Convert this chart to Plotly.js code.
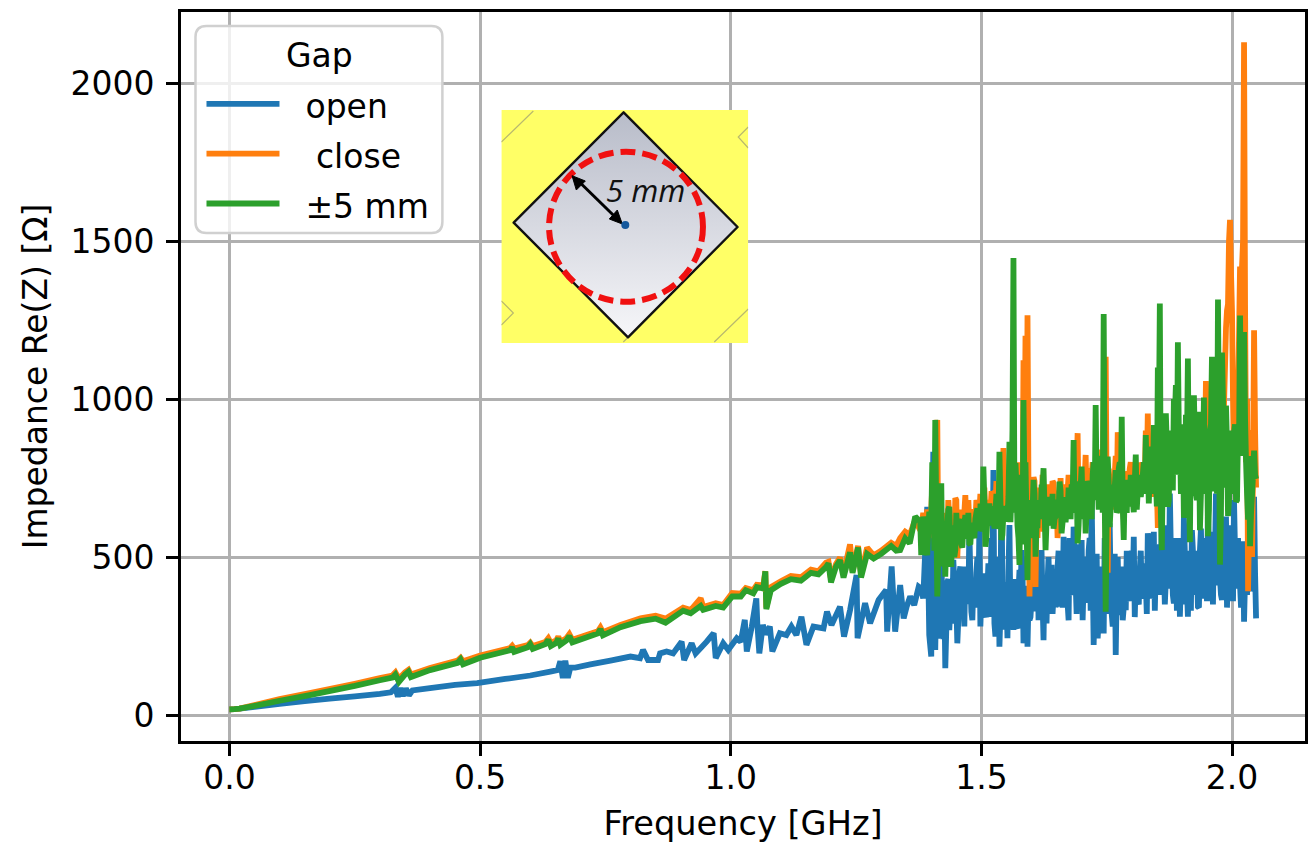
<!DOCTYPE html>
<html><head><meta charset="utf-8">
<script src="https://cdn.plot.ly/plotly-3.0.1.min.js"></script>
<style>html,body{margin:0;padding:0;background:#fff}#c{width:1311px;height:843px}</style>
</head><body><div id="c"></div>
<script>
const seriesNames = ['\u00a0\u00a0open', '\u00a0\u00a0\u00a0close', '\u00a0\u00a0±5 mm'];
const legendTitle = 'Gap';
const seriesColors = ['#1f77b4', '#ff7f0e', '#2ca02c'];
const xTicks = [0, 0.5, 1, 1.5, 2];
const yTicks = [0, 500, 1000, 1500, 2000];

const freqHigh = [
1.380,1.384,1.388,1.392,1.396,1.400,1.404,1.408,1.412,1.416,
1.420,1.424,1.428,1.432,1.436,1.440,1.444,1.448,1.452,1.456,
1.460,1.464,1.468,1.472,1.476,1.480,1.484,1.488,1.492,1.496,
1.500,1.504,1.508,1.512,1.516,1.520,1.524,1.528,1.532,1.536,
1.540,1.544,1.548,1.552,1.556,1.560,1.564,1.568,1.572,1.576,
1.580,1.584,1.588,1.592,1.596,1.600,1.604,1.608,1.612,1.616,
1.620,1.624,1.628,1.632,1.636,1.640,1.644,1.648,1.652,1.656,
1.660,1.664,1.668,1.672,1.676,1.680,1.684,1.688,1.692,1.696,
1.700,1.704,1.708,1.712,1.716,1.720,1.724,1.728,1.732,1.736,
1.740,1.744,1.748,1.752,1.756,1.760,1.764,1.768,1.772,1.776,
1.780,1.784,1.788,1.792,1.796,1.800,1.804,1.808,1.812,1.816,
1.820,1.824,1.828,1.832,1.836,1.840,1.844,1.848,1.852,1.856,
1.860,1.864,1.868,1.872,1.876,1.880,1.884,1.888,1.892,1.896,
1.900,1.904,1.908,1.912,1.916,1.920,1.924,1.928,1.932,1.936,
1.940,1.944,1.948,1.952,1.956,1.960,1.964,1.968,1.972,1.976,
1.980,1.984,1.988,1.992,1.996,2.000,2.004,2.008,2.012,2.016,
2.020,2.024,2.028,2.032,2.036,2.040,2.044,2.048];

const openHigh = [
400,369,520,659,253,185,833,206,243,540,
575,240,148,420,269,300,491,340,227,448,
322,400,470,360,586,327,420,350,500,596,
380,448,320,400,311,560,775,248,420,216,
744,330,420,243,601,340,269,400,274,459,
522,227,400,216,300,364,430,343,520,400,
522,237,340,420,350,475,380,343,470,343,
450,564,420,353,560,400,596,420,470,338,
554,420,500,364,560,680,222,420,243,420,
470,258,400,490,607,320,450,190,500,317,
430,340,332,400,448,520,564,430,359,460,
369,480,416,575,440,379,580,470,438,540,
617,480,427,600,701,480,353,560,440,311,
480,627,420,311,520,585,427,520,343,520,
420,369,560,650,406,422,580,701,520,430,
364,540,628,480,438,560,680,470,560,410,
520,295,480,560,395,620,691,306];

const closeHigh = [
590,640,600,650,620,650,700,800,934,700,
620,540,480,560,620,580,620,687,497,600,
630,590,696,660,600,620,650,610,670,640,
680,650,620,680,640,700,702,660,720,690,
750,845,720,770,740,790,800,760,800,680,
640,1123,1200,1265,375,520,753,405,560,600,
620,580,640,600,660,700,734,620,560,680,
650,690,660,710,680,720,740,820,892,720,
760,720,823,780,720,760,700,800,720,680,
760,1000,1134,450,700,650,720,820,895,640,
720,620,760,700,780,720,760,700,800,740,
770,740,900,954,720,690,733,780,592,800,
760,820,750,800,770,840,790,810,830,780,
800,840,780,860,800,820,850,790,870,830,
820,880,1057,860,800,850,800,880,760,820,
820,980,1225,1300,1567,1277,800,860,1000,1419,
1419,2129,800,392,902,500,1218,720];

const gapHigh = [
506,628,540,506,644,600,780,934,375,560,
733,560,438,600,659,469,530,522,560,612,
540,600,633,560,543,600,570,620,654,586,
660,786,533,620,670,630,650,640,590,833,
554,640,660,620,865,700,1446,797,600,475,
620,997,800,427,560,680,744,501,600,659,
720,781,522,670,600,640,590,628,680,739,
575,650,610,640,680,730,870,660,543,700,
786,620,575,740,660,620,800,981,744,730,
820,1269,327,818,595,680,720,775,649,800,
944,554,680,744,700,660,642,824,712,760,
722,800,886,800,765,850,918,750,1100,1302,
522,800,955,659,880,720,1000,1044,1180,900,
800,624,950,1128,547,850,1012,701,960,585,
800,1005,700,566,900,1134,708,1000,1315,476,
1147,800,979,630,760,700,895,675,900,1264,
1100,1212,800,618,534,700,837,747];

const freqFine = [
1.402,1.406,1.410,1.414,1.418,1.422,1.426,1.430,1.434,1.438,
1.442,1.446,1.450,1.454,1.458,1.462,1.466,1.470,1.474,1.478,
1.482,1.486,1.490,1.494,1.498,1.502,1.506,1.510,1.514,1.518,
1.522,1.526,1.530,1.534,1.538,1.542,1.546,1.550,1.554,1.558,
1.562,1.566,1.570,1.574,1.578,1.582,1.586,1.590,1.594,1.598,
1.602,1.606,1.610,1.614,1.618,1.622,1.626,1.630,1.634,1.638,
1.642,1.646,1.650,1.654,1.658,1.662,1.666,1.670,1.674,1.678,
1.682,1.686,1.690,1.694,1.698,1.702,1.706,1.710,1.714,1.718,
1.722,1.726,1.730,1.734,1.738,1.742,1.746,1.750,1.754,1.758,
1.762,1.766,1.770,1.774,1.778,1.782,1.786,1.790,1.794,1.798,
1.802,1.806,1.810,1.814,1.818,1.822,1.826,1.830,1.834,1.838,
1.842,1.846,1.850,1.854,1.858,1.862,1.866,1.870,1.874,1.878,
1.882,1.886,1.890,1.894,1.898,1.902,1.906,1.910,1.914,1.918,
1.922,1.926,1.930,1.934,1.938,1.942,1.946,1.950,1.954,1.958,
1.962,1.966,1.970,1.974,1.978,1.982,1.986,1.990,1.994,1.998,
2.002,2.006,2.010,2.014,2.018,2.022,2.026,2.030,2.034,2.038,
2.042,2.046];

const openFine = [
520,300,410,260,450,310,380,270,430,340,
290,420,350,300,470,330,280,410,360,440,
300,390,450,340,280,430,370,310,480,350,
420,290,360,500,320,410,270,380,450,300,
350,430,280,390,330,470,290,400,360,310,
450,330,480,300,410,360,440,290,500,380,
320,460,350,520,400,340,490,370,300,510,
380,470,320,540,410,300,480,360,520,330,
450,370,510,300,440,350,560,320,470,390,
280,510,400,340,470,300,430,520,360,490,
400,310,470,350,520,380,450,320,540,370,
480,330,500,380,440,560,350,470,400,520,
380,470,330,560,420,350,510,400,450,330,
520,380,460,340,590,400,480,360,540,420,
350,500,410,560,380,470,520,340,600,430,
360,520,400,480,340,550,430,380,520,400,
600,450];

const closeFine = [
720,560,640,520,700,500,640,600,680,560,
620,540,680,600,650,570,640,610,680,580,
640,600,680,630,700,620,720,600,670,640,
700,630,740,640,720,610,690,660,730,650,
860,680,760,600,800,580,740,660,720,640,
680,740,640,720,660,760,690,650,730,680,
740,660,710,680,750,650,730,690,760,660,
720,680,780,640,760,700,740,680,770,700,
800,720,760,690,840,680,740,660,780,700,
730,760,680,820,720,700,770,680,740,800,
720,780,690,760,730,800,740,770,710,830,
760,800,720,840,760,820,780,860,750,840,
780,860,800,850,790,880,780,860,800,880,
810,880,800,900,820,860,820,900,800,880,
840,900,820,880,850,900,1100,1280,1500,1400,
1000,900,950,1200,1300,1500,1300,1000,600,600,
800,900];

const gapFine = [
800,520,640,500,680,470,610,560,650,540,
600,500,640,560,620,530,600,570,640,540,
600,560,640,590,660,580,680,560,630,600,
660,590,700,600,680,570,650,620,690,610,
900,640,720,560,760,540,700,620,680,600,
640,700,600,680,620,720,650,610,690,640,
700,620,670,640,710,610,690,650,720,620,
680,640,740,600,720,660,700,640,730,660,
760,680,720,650,800,640,700,620,740,660,
690,720,640,780,680,660,730,640,700,760,
680,740,650,720,690,760,700,730,670,790,
700,820,660,900,640,800,700,850,680,900,
720,940,760,880,700,920,680,840,720,900,
740,860,680,900,700,820,760,880,650,920,
760,980,700,900,640,1000,720,860,680,900,
760,920,680,860,1000,820,940,700,820,640,
760,760];

const openLowX = [0,.01,.02,.05,.1,.15,.2,.25,.3,.322,.331,.336,.341,.346,.352,.358,.365,.4,.45,.494,.55,.6,.64,.655,.66,.665,.67,.675,.68,.69,.72,.76,.8,.819,.825,.835,.855,.859,.872,.885,.902,.907,.922,.93,.952,.966,.97,.985,.995,1.012,1.02,1.028,1.032,1.042,1.051,1.053,1.057,1.064,1.07,1.078,1.083,1.098,1.111,1.121,1.131,1.141,1.151,1.165,1.185,1.192,1.201,1.218,1.226,1.238,1.251,1.253,1.268,1.278,1.295,1.31,1.312,1.321,1.328,1.338,1.345,1.351,1.358,1.366,1.375];
const openLowY = [18,18.5,20,26,35,44,52,59,67,72,86,58,85,60,84,62,78,85,95,101,114,125,137,142,170,117,172,118,150,150,160,172,185,180,206,174,174,195,201,195,232,174,227,195,232,259,180,227,206,243,232,301,201,280,369,290,195,285,255,280,201,259,253,280,253,311,222,280,274,327,285,343,248,332,443,243,354,290,364,396,264,470,264,411,306,343,375,348,406];

const closeLowX = [0,.01,.02,.05,.1,.16,.25,.3,.325,.331,.338,.35,.357,.362,.4,.455,.461,.466,.5,.56,.564,.568,.595,.6,.605,.63,.636,.641,.652,.656,.66,.672,.678,.684,.735,.74,.745,.78,.82,.85,.87,.905,.92,.94,.945,.97,.985,1.003,1.02,1.03,1.045,1.052,1.065,1.069,1.071,1.08,1.1,1.12,1.14,1.16,1.175,1.19,1.195,1.2,1.21,1.218,1.225,1.238,1.243,1.254,1.26,1.272,1.285,1.3,1.32,1.33,1.338,1.348,1.357,1.368,1.378];
const closeLowY = [18,18.5,20,31,50,69,99,117,125,135,115,135,143,128,149,172,181,170,188,212,219,210,221,229,218,231,243,228,236,248,232,243,256,238,265,277,262,285,306,314,305,340,332,369,342,354,348,386,384,402,395,412,410,455,340,405,423,440,436,460,455,482,485,430,478,498,448,540,455,535,445,530,505,520,545,535,560,580,570,617,585];

const gapLowX = [0,.01,.02,.05,.1,.16,.25,.3,.325,.331,.338,.35,.357,.362,.4,.455,.461,.466,.5,.56,.564,.568,.595,.6,.605,.63,.636,.641,.652,.656,.66,.672,.678,.684,.735,.74,.745,.78,.82,.85,.87,.905,.92,.94,.945,.97,.985,1.003,1.02,1.03,1.045,1.052,1.065,1.069,1.071,1.08,1.1,1.12,1.14,1.16,1.175,1.19,1.195,1.2,1.21,1.218,1.225,1.238,1.243,1.254,1.26,1.272,1.285,1.3,1.32,1.33,1.338,1.348,1.357,1.368,1.378];
const gapLowY = [18,18.5,20,29,45,63,92,110,118,128,105,128,137,120,142,165,176,160,181,205,214,200,214,224,209,224,238,218,228,242,222,236,250,230,258,272,252,278,297,305,292,330,322,345,333,345,340,375,375,395,385,405,400,455,335,395,415,430,425,450,445,468,480,420,470,490,435,515,450,530,435,510,495,510,535,520,522,559,543,628,612];

const W = 1311, H = 843, L = 180.5, R = 1305, T = 12, B = 741;
const px = v => (v - L) / (R - L);
const py = v => (B - v) / (B - T);

const insetSvg = `<svg xmlns="http://www.w3.org/2000/svg" width="741" height="699" viewBox="0 0 247 233">
<defs><linearGradient id="g" x1="0" y1="0" x2="0" y2="1"><stop offset="0" stop-color="#b8bcc9"/><stop offset="1" stop-color="#f6f6f9"/></linearGradient></defs>
<rect width="247" height="233" fill="#ffff66"/>
<g fill="none" stroke="#b9b96e" stroke-width="1.2"><path d="M0 32L32 1M247 17L237 27L247 38M0 191L12 203L0 215M247 199L213 232M122 232L127 227"/></g>
<path d="M122.3 2.3L236.3 117L126.7 227.3L12.3 112.7Z" fill="url(#g)" stroke="#111" stroke-width="2.4" stroke-linejoin="round"/>
<ellipse cx="124.7" cy="116.7" rx="77" ry="75" fill="none" stroke="#f01010" stroke-width="6" stroke-dasharray="15 7"/>
<path d="M76 70L117 110" stroke="#000" stroke-width="3"/>
<path d="M70.7 65.7L84 71L75 80Z" fill="#000" stroke="#000"/><path d="M121 114L108 109L116 100Z" fill="#000" stroke="#000"/>
<circle cx="124" cy="115" r="4" fill="#15589c"/>
</svg>`;

function joined(lowX, lowY, highX, highY, fineX, fineY) {
  const pts = [];
  lowX.forEach((v, k) => pts.push([v, lowY[k]]));
  highX.forEach((v, k) => pts.push([v, highY[k]]));
  fineX.forEach((v, k) => pts.push([v, fineY[k]]));
  pts.sort((a, b) => a[0] - b[0]);
  return {x: pts.map(p => p[0]), y: pts.map(p => p[1])};
}

const mk = (d, i) => ({
  x: d.x, y: d.y, type: 'scatter', mode: 'lines',
  name: '<span style="font-size:33px">' + seriesNames[i] + '</span>',
  line: {color: seriesColors[i], width: 5.8, simplify: false},
  hoverinfo: 'skip'
});

const r = 11, bx0 = 195, bx1 = 442, by0 = 26, by1 = 233;
const box = `M${px(bx0+r)} ${py(by0)} L${px(bx1-r)} ${py(by0)} Q${px(bx1)} ${py(by0)} ${px(bx1)} ${py(by0+r)} L${px(bx1)} ${py(by1-r)} Q${px(bx1)} ${py(by1)} ${px(bx1-r)} ${py(by1)} L${px(bx0+r)} ${py(by1)} Q${px(bx0)} ${py(by1)} ${px(bx0)} ${py(by1-r)} L${px(bx0)} ${py(by0+r)} Q${px(bx0)} ${py(by0)} ${px(bx0+r)} ${py(by0)} Z`;

const font = {family: '"DejaVu Sans", sans-serif', size: 33, color: '#000'};
const axis = {
  showline: true, mirror: true, linecolor: '#000', linewidth: 2.6,
  ticks: 'outside', ticklen: 12, tickwidth: 2.6, tickcolor: '#000',
  showgrid: true, gridcolor: '#b0b0b0', gridwidth: 2.6, zeroline: false,
  tickfont: font
};

Plotly.newPlot('c', [
  mk(joined(openLowX, openLowY, freqHigh, openHigh, freqFine, openFine), 0),
  mk(joined(closeLowX, closeLowY, freqHigh, closeHigh, freqFine, closeFine), 1),
  mk(joined(gapLowX, gapLowY, freqHigh, gapHigh, freqFine, gapFine), 2)
], {
  width: W, height: H,
  margin: {l: L, r: W - R, t: T, b: H - B, pad: 0},
  paper_bgcolor: '#fff', plot_bgcolor: '#fff',
  font,
  xaxis: Object.assign({}, axis, {
    range: [-0.0967, 2.1456], tickvals: xTicks, tickformat: '.1f', ticklabelstandoff: -6,
    title: {text: 'Frequency [GHz]', font: {family: font.family, size: 33.6, color: '#000'}, standoff: 18}
  }),
  yaxis: Object.assign({}, axis, {
    range: [-82.3, 2225], tickvals: yTicks, tickformat: 'd', ticklabelstandoff: 5,
    title: {text: 'Impedance Re(Z) [Ω]', font, standoff: 14}
  }),
  showlegend: true,
  legend: {
    x: px(201), y: py(74), xanchor: 'left', yanchor: 'top', xref: 'paper', yref: 'paper',
    bgcolor: 'rgba(0,0,0,0)', borderwidth: 0,
    font: {family: font.family, size: 36, color: '#000'},
    itemwidth: 73, itemclick: false, itemdoubleclick: false, traceorder: 'normal'
  },
  shapes: [{type: 'path', xref: 'paper', yref: 'paper', path: box, layer: 'above',
    fillcolor: 'rgba(255,255,255,0.8)', line: {color: '#d0d0d0', width: 2.5}}],
  images: [{source: 'data:image/svg+xml;utf8,' + encodeURIComponent(insetSvg),
    xref: 'paper', yref: 'paper', x: px(501), y: py(110), sizex: 247 / (R - L), sizey: 233 / (B - T),
    xanchor: 'left', yanchor: 'top', sizing: 'stretch', layer: 'above'}],
  annotations: [
    {text: legendTitle, xref: 'paper', yref: 'paper', x: px(319), y: py(55),
     showarrow: false, xanchor: 'center', yanchor: 'middle', font},
    {text: '<i>5 mm</i>', xref: 'paper', yref: 'paper', x: px(645), y: py(190),
     showarrow: false, xanchor: 'center', yanchor: 'middle',
     font: {family: '"Open Sans", sans-serif', size: 31, color: '#111'}}]
}, {displayModeBar: false, responsive: false});
</script></body></html>
